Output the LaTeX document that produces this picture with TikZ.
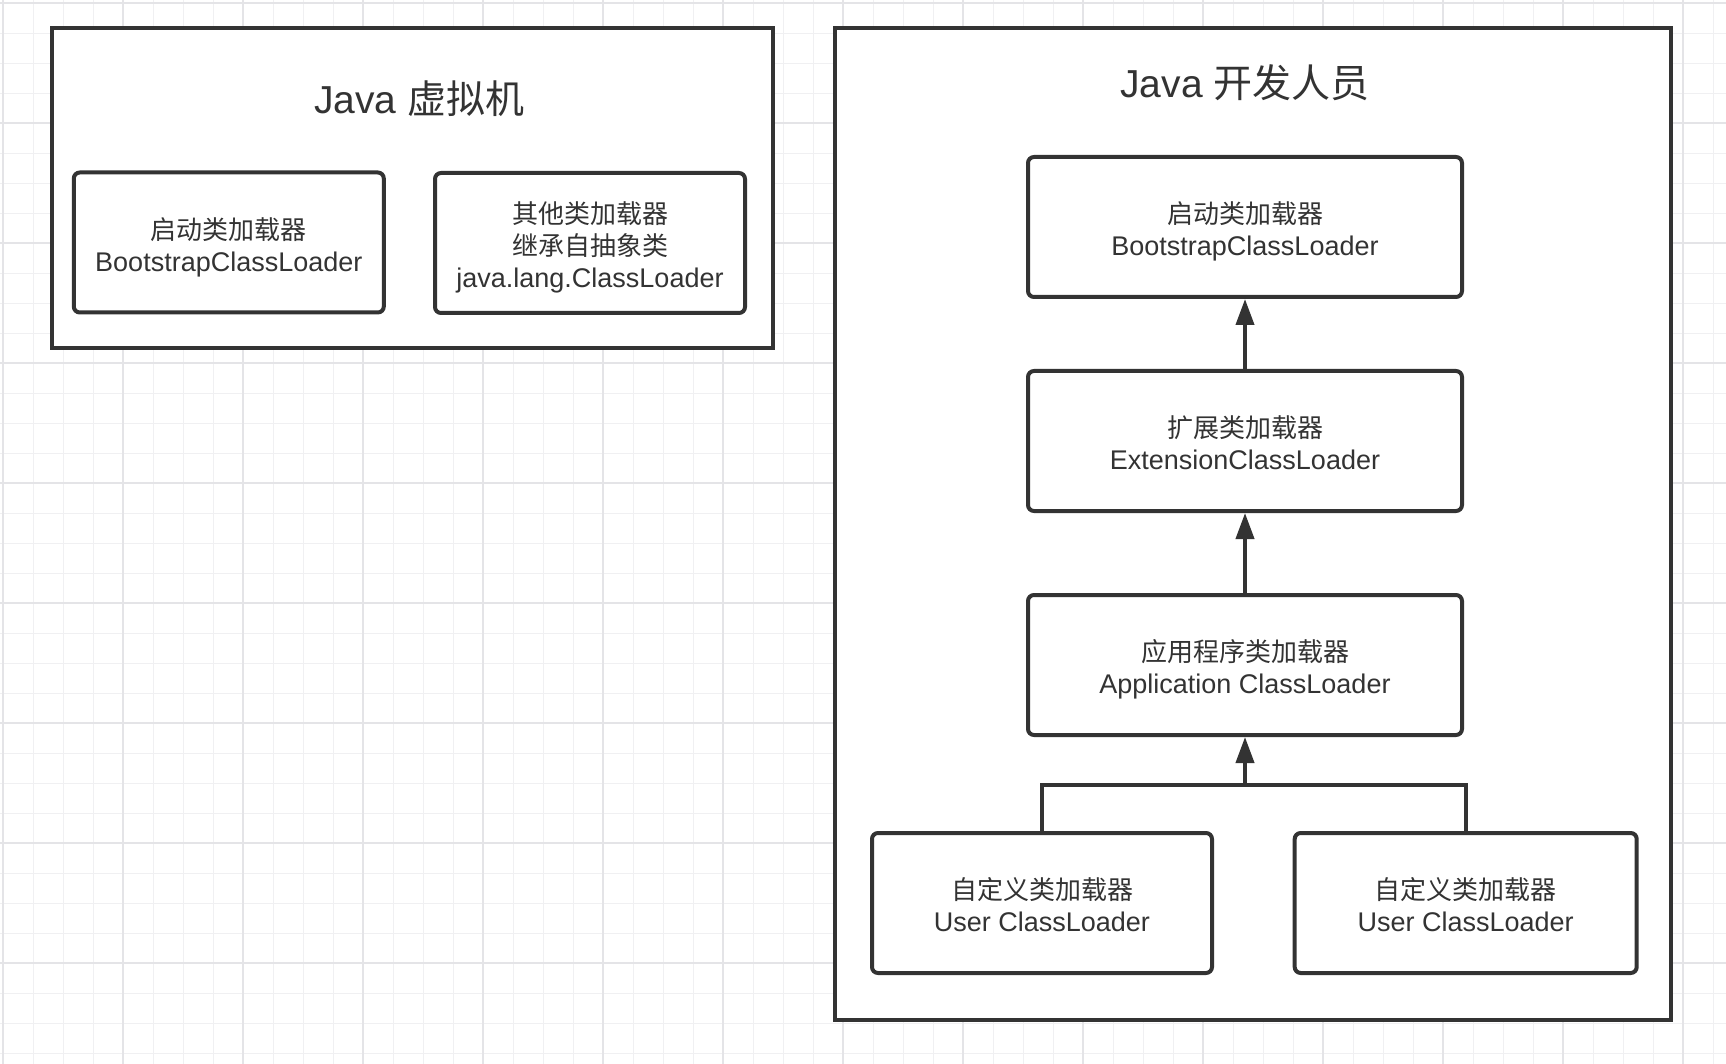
\documentclass[tikz,border=0pt]{standalone}
\usepackage{fontspec}
\setmainfont{Liberation Sans}
\newfontfamily\cjk{Noto Sans CJK SC}
\newfontfamily\cjkbox[Scale=0.963]{Noto Sans CJK SC}
\usetikzlibrary{arrows.meta,positioning}

\definecolor{inkgray}{HTML}{333333}
\definecolor{gridminor}{HTML}{F0F0F2}
\definecolor{gridmajor}{HTML}{E4E4E7}

\tikzset{
  outerbox/.style={draw=inkgray, line width=2pt, fill=white},
  loaderbox/.style={draw=inkgray, line width=2pt, rounded corners=3pt, fill=white,
    text=inkgray, align=center, minimum height=70pt,
    text height=28.7pt, text depth=0pt,
    font=\fontsize{13.5pt}{16pt}\selectfont},
  boxtitle/.style={text=inkgray, font=\fontsize{19.5pt}{24pt}\selectfont},
  link/.style={draw=inkgray, line width=2pt},
  uparrow/.style={link, -{Triangle[length=13pt,width=9pt]}},
}

\begin{document}
\begin{tikzpicture}[x=0.5pt, y=-0.5pt]
  \useasboundingbox (0,0) rectangle (1726,1064);
  \fill[white] (0,0) rectangle (1726,1064);

  % grid paper
  \foreach \k in {0,...,57} {
    \draw[gridminor, line width=0.5pt] ({3.3+30*\k},0) -- ({3.3+30*\k},1064);
  }
  \foreach \k in {0,...,35} {
    \draw[gridminor, line width=0.5pt] (0,{3.3+30*\k}) -- (1726,{3.3+30*\k});
  }
  \foreach \k in {0,...,14} {
    \draw[gridmajor, line width=0.9pt] ({3.3+120*\k},0) -- ({3.3+120*\k},1064);
  }
  \foreach \k in {0,...,8} {
    \draw[gridmajor, line width=0.9pt] (0,{3.3+120*\k}) -- (1726,{3.3+120*\k});
  }

  % left: the virtual machine
  \node[outerbox, minimum width=360.5pt, minimum height=160pt] (jvm) at (412.2,188) {};
  \node[boxtitle] (jvmtitle) at (419.4,99) {Java {\cjk 虚拟机}};
  \node[loaderbox, minimum width=155pt] (vmboot) at (228.8,242.5) {{\cjkbox 启动类加载器}\\BootstrapClassLoader};
  \node[loaderbox, minimum width=155pt, text height=44.7pt] (vmother) at (590,243) {{\cjkbox 其他类加载器}\\{\cjkbox 继承自抽象类}\\java.lang.ClassLoader};

  % right: the developer's view
  \node[outerbox, minimum width=418pt, minimum height=496pt] (dev) at (1252.5,523.6) {};
  \node[boxtitle] (devtitle) at (1245,82.6) {Java {\cjk 开发人员}};
  \node[loaderbox, minimum width=217pt] (boot) at (1245,227) {{\cjkbox 启动类加载器}\\BootstrapClassLoader};
  \node[loaderbox, minimum width=217pt] (ext) at (1245,441) {{\cjkbox 扩展类加载器}\\ExtensionClassLoader};
  \node[loaderbox, minimum width=217pt] (app) at (1245,665) {{\cjkbox 应用程序类加载器}\\Application ClassLoader};
  \node[loaderbox, minimum width=170pt] (user1) at (1042,903) {{\cjkbox 自定义类加载器}\\User ClassLoader};
  \node[loaderbox, minimum width=171pt] (user2) at (1465.7,903) {{\cjkbox 自定义类加载器}\\User ClassLoader};

  \draw[uparrow] (ext) -- (boot);
  \draw[uparrow] (app) -- (ext);
  \coordinate (join) at ([yshift=-24pt]app.south);
  \draw[link] (user1.north) |- (join) -| (user2.north);
  \draw[uparrow] (join) -- (app.south);
\end{tikzpicture}
\end{document}
